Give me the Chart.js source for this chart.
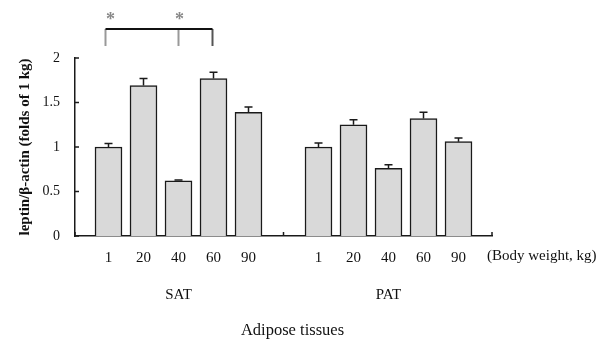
<!DOCTYPE html>
<html>
<head>
<meta charset="utf-8">
<script src="https://cdn.jsdelivr.net/npm/chart.js@4/dist/chart.umd.min.js"></script>
<style>
  html, body { margin: 0; padding: 0; background: #fff; }
  #wrap { width: 597px; height: 343px; position: relative; }
</style>
</head>
<body>
<div id="wrap"><canvas id="c" width="597" height="343"></canvas></div>
<script>
// ---- data ----
const categories = ['1', '20', '40', '60', '90'];
const groups = ['SAT', 'PAT'];
const satValues = [1.00, 1.69, 0.62, 1.77, 1.39];
const satErrors = [0.04, 0.08, 0.01, 0.07, 0.06];
const patValues = [1.00, 1.25, 0.76, 1.32, 1.06];
const patErrors = [0.045, 0.055, 0.04, 0.07, 0.04];
const yTicks = [0, 0.5, 1, 1.5, 2];
const yTitle = 'leptin/\u03b2-actin (folds of 1 kg)';
const xTitle = 'Adipose tissues';
const unitLabel = '(Body weight, kg)';
const sigStars = ['*', '*'];

// ---- build ----
const groupStep = categories.length + 1;
const seriesValues = [satValues, patValues];
const seriesErrors = [satErrors, patErrors];
const points = [];
const errs = [];
seriesValues.forEach((vals, g) => {
  vals.forEach((v, i) => {
    points.push({ x: g * groupStep + i, y: v });
    errs.push(seriesErrors[g][i]);
  });
});
const tickPositions = points.map(p => p.x);
const edgePad = 16 / 35;
const xMin = -0.5 - edgePad;
const xMax = groupStep * groups.length - 1.5 + edgePad;

const serif = '"Liberation Serif", "Times New Roman", serif';

const decor = {
  id: 'decor',
  afterDatasetsDraw(chart) {
    const ctx = chart.ctx;
    const ys = chart.scales.y;
    const meta = chart.getDatasetMeta(0);
    ctx.save();
    ctx.strokeStyle = '#1a1a1a';
    ctx.lineWidth = 1.5;
    meta.data.forEach((bar, i) => {
      const v = points[i].y;
      const yTop = ys.getPixelForValue(v + errs[i]);
      ctx.beginPath();
      ctx.moveTo(bar.x, bar.y);
      ctx.lineTo(bar.x, yTop);
      ctx.moveTo(bar.x - 4, yTop);
      ctx.lineTo(bar.x + 4, yTop);
      ctx.stroke();
    });
    ctx.restore();
  },
  afterDraw(chart) {
    const ctx = chart.ctx;
    const ca = chart.chartArea;
    const xs = chart.scales.x;
    const ys = chart.scales.y;
    ctx.save();
    ctx.strokeStyle = '#1a1a1a';
    ctx.lineWidth = 1.5;
    // inward y ticks
    yTicks.forEach(t => {
      const y = ys.getPixelForValue(t);
      ctx.beginPath();
      ctx.moveTo(ca.left, y);
      ctx.lineTo(ca.left + 4, y);
      ctx.stroke();
    });
    // inward x ticks (group boundaries)
    [xMin, groupStep - 1, xMax].forEach(v => {
      const x = xs.getPixelForValue(v);
      ctx.beginPath();
      ctx.moveTo(x, ca.bottom);
      ctx.lineTo(x, ca.bottom - 4);
      ctx.stroke();
    });
    // group labels
    ctx.fillStyle = '#111';
    ctx.textAlign = 'center';
    ctx.textBaseline = 'middle';
    ctx.font = '15px ' + serif;
    groups.forEach((g, gi) => {
      const mid = gi * groupStep + (categories.length - 1) / 2;
      ctx.fillText(g, xs.getPixelForValue(mid), ca.bottom + 59);
    });
    // unit label
    ctx.textAlign = 'left';
    ctx.font = '15px ' + serif;
    ctx.fillText(unitLabel, ca.right - 5, ca.bottom + 20);
    // x title
    ctx.textAlign = 'center';
    ctx.font = '16.5px ' + serif;
    ctx.fillText(xTitle, (ca.left + ca.right) / 2 + 9, ca.bottom + 95);
    // significance bracket
    const xa = xs.getPixelForValue(points[0].x) - 3;
    const xb = xs.getPixelForValue(points[2].x);
    const xc = xs.getPixelForValue(points[3].x) - 1;
    const yLine = ca.top - 29;
    const yLeg = ca.top - 12;
    ctx.lineWidth = 2;
    ctx.strokeStyle = '#999';
    ctx.beginPath();
    ctx.moveTo(xa, yLine); ctx.lineTo(xa, yLeg);
    ctx.moveTo(xb, yLine); ctx.lineTo(xb, yLeg);
    ctx.stroke();
    ctx.strokeStyle = '#555';
    ctx.beginPath();
    ctx.moveTo(xc, yLine); ctx.lineTo(xc, yLeg);
    ctx.stroke();
    ctx.strokeStyle = '#111';
    ctx.beginPath();
    ctx.moveTo(xa, yLine); ctx.lineTo(xc, yLine);
    ctx.stroke();
    ctx.fillStyle = '#888';
    ctx.font = 'bold 18px ' + serif;
    ctx.fillText(sigStars[0], xa + 5, ca.top - 38);
    ctx.fillText(sigStars[1], xb + 1, ca.top - 38);
    ctx.restore();
  }
};

new Chart(document.getElementById('c'), {
  type: 'bar',
  data: {
    datasets: [{
      data: points,
      backgroundColor: '#d9d9d9',
      borderColor: '#1a1a1a',
      borderWidth: 1.5,
      barThickness: 27
    }]
  },
  options: {
    responsive: false,
    animation: false,
    layout: { padding: { top: 58, right: 105, bottom: 0, left: 0 } },
    plugins: { legend: { display: false }, tooltip: { enabled: false } },
    scales: {
      x: {
        type: 'linear',
        min: xMin,
        max: xMax,
        offset: false,
        afterFit(s) { s.height = 107; },
        afterBuildTicks(s) { s.ticks = tickPositions.map(v => ({ value: v })); },
        grid: { display: false, offset: false },
        border: { display: true, color: '#1a1a1a', width: 1.5 },
        ticks: {
          autoSkip: false,
          maxRotation: 0,
          padding: 5,
          color: '#111',
          font: { family: serif, size: 15 },
          callback: (v) => categories[v % groupStep]
        }
      },
      y: {
        min: 0,
        max: 2,
        afterFit(s) { s.width = 75; },
        afterBuildTicks(s) { s.ticks = yTicks.map(v => ({ value: v })); },
        grid: { display: false },
        border: { display: true, color: '#1a1a1a', width: 1.5 },
        ticks: {
          padding: 7,
          color: '#111',
          font: { family: serif, size: 14 },
          callback: (v) => String(v)
        },
        title: {
          display: true,
          text: yTitle,
          color: '#111',
          font: { family: serif, size: 15, weight: 'bold' },
          padding: { top: 16, bottom: 0 }
        }
      }
    }
  },
  plugins: [decor]
});
</script>
</body>
</html>
